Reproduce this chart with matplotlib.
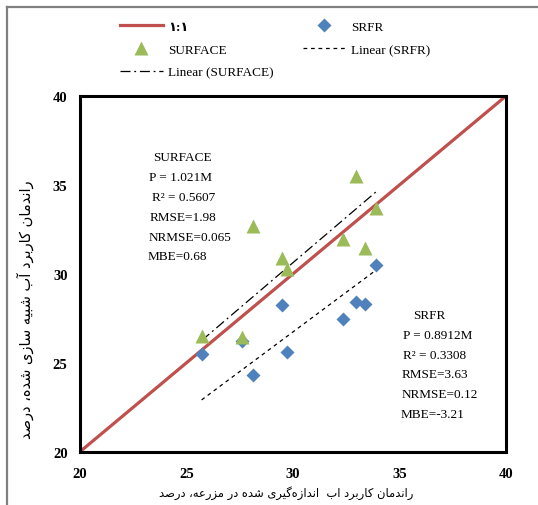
import numpy as np
import matplotlib
matplotlib.use("Agg")
import matplotlib.pyplot as plt
from matplotlib.lines import Line2D

# --- data ---
surface_x = [32.98, 33.90, 28.11, 32.36, 33.39, 29.50, 29.70, 25.71, 27.59]
surface_y = [35.49, 33.69, 32.69, 31.94, 31.47, 30.87, 30.25, 26.50, 26.45]
srfr_x = [33.90, 29.50, 32.98, 33.39, 32.36, 25.71, 27.59, 29.70, 28.11]
srfr_y = [30.48, 28.24, 28.41, 28.30, 27.44, 25.52, 26.20, 25.62, 24.30]
surface_slope = 1.021
srfr_slope = 0.8912
ticks = [20, 25, 30, 35, 40]

surface_stats = ["SURFACE", "P = 1.021M", "R² = 0.5607", "RMSE=1.98",
                 "NRMSE=0.065", "MBE=0.68"]
srfr_stats = ["SRFR", "P = 0.8912M", "R² = 0.3308", "RMSE=3.63",
              "NRMSE=0.12", "MBE=-3.21"]

xlabel_fa = "راندمان کاربرد اب  اندازه\u200cگیری شده در مزرعه، درصد"
ylabel_fa = "راندمان کاربرد آب شبیه سازی شده، درصد"

# --- minimal Persian shaping (matplotlib has no complex text layout) ---
FORMS = {
    'ا': ('\uFE8D', '\uFE8E', None, None),
    'آ': ('\uFE81', '\uFE82', None, None),
    'د': ('\uFEA9', '\uFEAA', None, None),
    'ر': ('\uFEAD', '\uFEAE', None, None),
    'ز': ('\uFEAF', '\uFEB0', None, None),
    'ب': ('\uFE8F', '\uFE90', '\uFE91', '\uFE92'),
    'س': ('\uFEB1', '\uFEB2', '\uFEB3', '\uFEB4'),
    'ش': ('\uFEB5', '\uFEB6', '\uFEB7', '\uFEB8'),
    'ص': ('\uFEB9', '\uFEBA', '\uFEBB', '\uFEBC'),
    'ع': ('\uFEC9', '\uFECA', '\uFECB', '\uFECC'),
    'م': ('\uFEE1', '\uFEE2', '\uFEE3', '\uFEE4'),
    'ن': ('\uFEE5', '\uFEE6', '\uFEE7', '\uFEE8'),
    'ه': ('\uFEE9', '\uFEEA', '\uFEEB', '\uFEEC'),
    'ی': ('\uFBFC', '\uFBFD', '\uFBFE', '\uFBFF'),
    'ک': ('\uFB8E', '\uFB8F', '\uFB90', '\uFB91'),
    'گ': ('\uFB92', '\uFB93', '\uFB94', '\uFB95'),
}


def shape(text):
    out = []
    for i, c in enumerate(text):
        if c == '\u200c':
            continue
        if c not in FORMS:
            out.append(c)
            continue
        prev = text[i - 1] if i > 0 else ''
        nxt = text[i + 1] if i + 1 < len(text) else ''
        jp = prev in FORMS and FORMS[prev][2] is not None
        jn = FORMS[c][2] is not None and nxt in FORMS
        idx = 3 if (jp and jn) else 1 if jp else 2 if jn else 0
        out.append(FORMS[c][idx])
    return ''.join(reversed(out))


SERIF = ['Liberation Serif', 'DejaVu Serif']
blue = '#4F81BD'
green = '#9BBB59'
red = '#C0504D'

W, H = 538, 506
fig = plt.figure(figsize=(W / 100, H / 100), dpi=100)
ax = fig.add_axes([80 / W, 1 - 452.7 / H, 426 / W, 355.7 / H])

ax.plot([20, 40], [20, 40], color=red, lw=2.3, zorder=2, label='۱:۱')
ax.plot(srfr_x, srfr_y, 'D', color=blue, ms=7, mec='none', zorder=3, label='SRFR')
ax.plot(surface_x, surface_y, '^', color=green, ms=10, mec='none', zorder=4,
        label='SURFACE')

# trend lines forced through the origin (y = P * x) over the data range
xs = np.array([min(srfr_x), max(srfr_x)])
ax.plot(xs, srfr_slope * xs, color='black', lw=0.9, ls=(0, (3, 3)), zorder=2,
        label='Linear (SRFR)')
xs = np.array([min(surface_x), max(surface_x)])
ax.plot(xs, surface_slope * xs, color='black', lw=0.9, ls=(0, (8, 3, 1.5, 3)),
        zorder=2, label='Linear (SURFACE)')

ax.set_xlim(20, 40)
ax.set_ylim(20, 40)
ax.set_xticks(ticks)
ax.set_yticks(ticks)
ax.tick_params(length=0, labelsize=10.5)
ax.tick_params(axis='x', pad=11)
ax.tick_params(axis='y', pad=9)
for lab in ax.get_xticklabels() + ax.get_yticklabels():
    lab.set_family(SERIF)
    lab.set_fontweight('bold')
for sp in ax.spines.values():
    sp.set_linewidth(2.2)
    sp.set_color('black')


def px2data(px, py):
    return 20 + (px - 80) / 21.3, 40 - (py - 97) / 17.78


# stats boxes
surf_pos = [(153, 158), (149, 178), (152, 198), (150, 218), (149, 238), (148, 257)]
for txt, (px, py) in zip(surface_stats, surf_pos):
    x, y = px2data(px, py)
    ax.text(x, y, txt, family=SERIF, fontsize=9.5, va='center', ha='left')
srfr_pos = [(413, 316), (403, 336), (403, 356), (402, 375), (402, 395), (401, 415)]
for txt, (px, py) in zip(srfr_stats, srfr_pos):
    x, y = px2data(px, py)
    ax.text(x, y, txt, family=SERIF, fontsize=9.5, va='center', ha='left')

# axis titles (Persian)
fig.text(286 / W, 1 - 493 / H, shape(xlabel_fa), family='DejaVu Sans',
         fontsize=8.3, ha='center', va='center')
fig.text(25 / W, 1 - 310 / H, shape(ylabel_fa), family='DejaVu Sans',
         fontsize=10.5, ha='center', va='center', rotation=90)

# legend above the plot
h, l = ax.get_legend_handles_labels()
order = [0, 2, 4, 1, 3]
leg = fig.legend([h[i] for i in order], [l[i] for i in order],
                 loc='upper left', bbox_to_anchor=(108 / W, 1 - 10 / H),
                 ncol=2, frameon=False, handlelength=3.25, handletextpad=0.4,
                 columnspacing=2.2, labelspacing=0.8,
                 prop={'family': SERIF + ['DejaVu Sans'], 'size': 9.5})
leg.get_texts()[0].set_fontweight('bold')

# outer gray frame (left and top edges visible)
fig.add_artist(Line2D([7 / W, 7 / W], [0, 1 - 8 / H], color='#808080', lw=1.6))
fig.add_artist(Line2D([7 / W, 1], [1 - 8 / H, 1 - 8 / H], color='#808080', lw=1.6))

fig.savefig('out.png', dpi=100)
